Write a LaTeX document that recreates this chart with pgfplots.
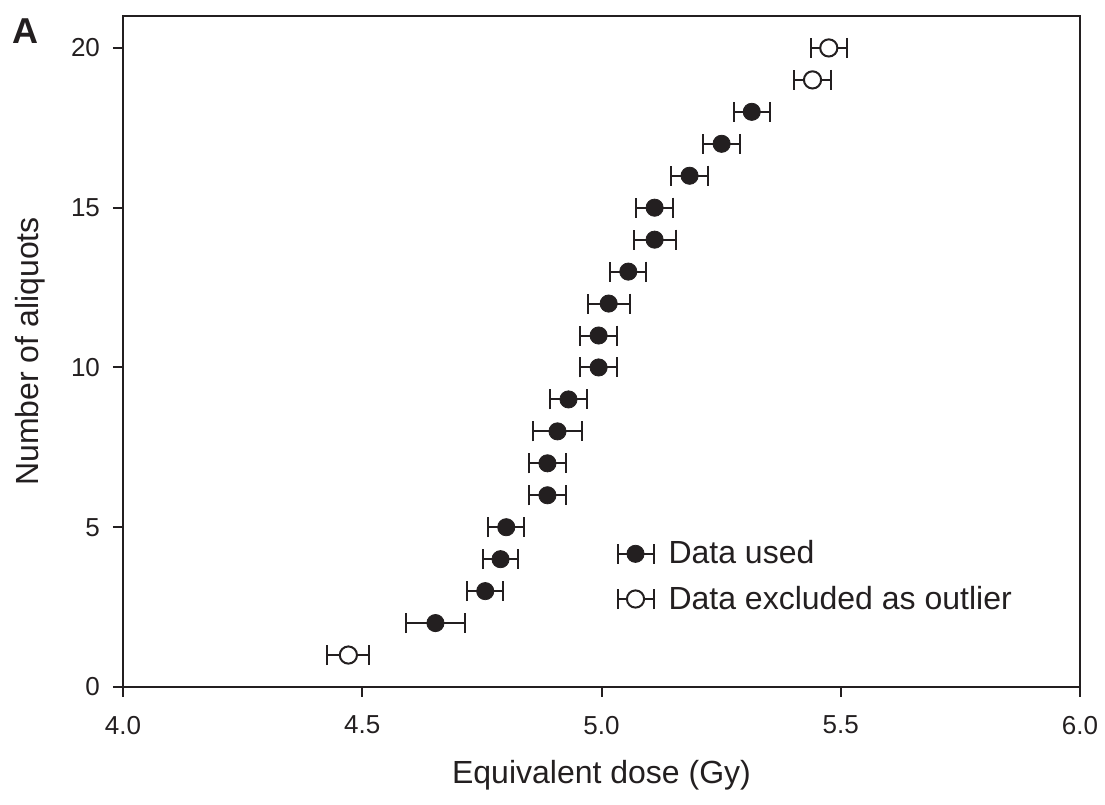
\documentclass[border=0pt]{standalone}
\usepackage{fontspec}
\setmainfont{Liberation Sans}
\usepackage{pgfplots}
\pgfplotsset{compat=1.18}
\definecolor{Ink}{HTML}{231F20}

\pgfplotstableread{
y  x      e
2  4.653  0.061
3  4.757  0.038
4  4.789  0.037
5  4.801  0.038
6  4.887  0.038
7  4.887  0.038
8  4.908  0.052
9  4.931  0.038
10 4.994  0.038
11 4.994  0.038
12 5.015  0.044
13 5.056  0.038
14 5.111  0.044
15 5.111  0.038
16 5.184  0.038
17 5.251  0.038
18 5.314  0.038
}\used
\pgfplotstableread{
y  x      e
1  4.471  0.044
19 5.441  0.038
20 5.475  0.038
}\outliers

\begin{document}
\begin{tikzpicture}
\begin{axis}[
  scale only axis,
  width=478.5pt,height=335.5pt,
  xmin=4,xmax=6,ymin=0,ymax=21,
  xtick={4,4.5,5,5.5,6},
  ytick={0,5,10,15,20},
  xticklabel style={/pgf/number format/fixed,/pgf/number format/fixed zerofill,
    /pgf/number format/precision=1,yshift=-6pt},
  /pgf/number format/assume math mode=true,
  axis line style={Ink,line width=1pt},
  tick style={Ink,line width=1pt},
  tick align=outside,
  major tick length=5pt,
  xtick pos=bottom, ytick pos=left,
  ticklabel style={font=\fontsize{13}{15}\selectfont,text=Ink},
  yticklabel style={xshift=-3pt},
  xlabel={Equivalent dose (Gy)},
  ylabel={Number of aliquots},
  every axis x label/.style={at={(rel axis cs:0.5,-0.131)},anchor=center,
    font=\fontsize{16}{19}\selectfont,text=Ink},
  every axis y label/.style={at={(rel axis cs:-0.0972,0.5)},rotate=90,anchor=center,
    font=\fontsize{16}{19}\selectfont,text=Ink},
  clip=false,
  legend style={draw=none,fill=none,at={(0.509,0.2305)},anchor=north west,
    font=\fontsize{16}{19}\selectfont,text=Ink,row sep=5.5pt,column sep=5pt},
  legend cell align=left,
  error bars/error bar style={Ink,line width=1pt},
  error bars/error mark=|,
  error bars/error mark options={Ink,line width=1pt,mark size=5pt},
]
\addplot[only marks,mark=*,mark size=4.3pt,mark options={fill=Ink,draw=Ink},
  legend image code/.code={
    \draw[Ink,line width=1pt] (0pt,0pt) -- (18pt,0pt);
    \draw[Ink,line width=1pt] (0pt,-5pt) -- (0pt,5pt);
    \draw[Ink,line width=1pt] (18pt,-5pt) -- (18pt,5pt);
    \fill[Ink] (9pt,0pt) circle (4.3pt);},
  error bars/.cd,x dir=both,x explicit]
  table[x=x,y=y,x error=e] {\used};
\addlegendentry{Data used}
\addplot[only marks,mark=*,mark size=4.3pt,mark options={fill=white,draw=Ink,line width=1pt},
  legend image code/.code={
    \draw[Ink,line width=1pt] (0pt,0pt) -- (18pt,0pt);
    \draw[Ink,line width=1pt] (0pt,-5pt) -- (0pt,5pt);
    \draw[Ink,line width=1pt] (18pt,-5pt) -- (18pt,5pt);
    \filldraw[Ink,fill=white,line width=1pt] (9pt,0pt) circle (4.3pt);},
  error bars/.cd,x dir=both,x explicit]
  table[x=x,y=y,x error=e] {\outliers};
\addlegendentry{Data excluded as outlier}
\node[anchor=north west,inner sep=0pt,font=\fontsize{18}{20}\selectfont\bfseries,text=Ink]
  at (rel axis cs:-0.116,0.997) {A};
\coordinate (ll) at (rel axis cs:0,0);
\coordinate (ur) at (rel axis cs:1,1);
\end{axis}
\pgfresetboundingbox
\path (ll) ++(-61.5pt,-59pt) coordinate (bl);
\path (ur) ++(12.5pt,8pt) coordinate (tr);
\path (bl) rectangle (tr);
\end{tikzpicture}
\end{document}
